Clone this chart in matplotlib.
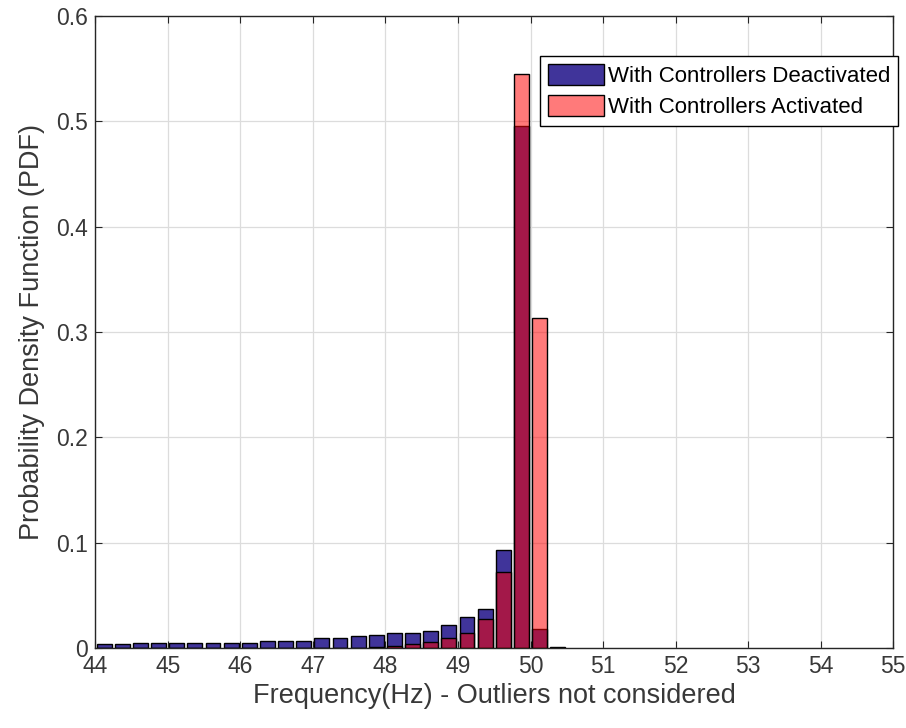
import numpy as np
import matplotlib
matplotlib.use('Agg')
import matplotlib.pyplot as plt

# DATA - histogram bins (Hz) and PDF values
bin_left = [44.0, 44.25, 44.5, 44.75, 45.0, 45.25, 45.5, 45.75, 46.0, 46.25,
            46.5, 46.75, 47.0, 47.25, 47.5, 47.75, 48.0, 48.25, 48.5, 48.75,
            49.0, 49.25, 49.5, 49.75, 50.0, 50.25]
bin_width = 0.25
pdf_deactivated = [0.004, 0.004, 0.005, 0.005, 0.005, 0.005, 0.005, 0.005, 0.005, 0.007,
                   0.007, 0.007, 0.009, 0.009, 0.011, 0.012, 0.014, 0.014, 0.016, 0.022,
                   0.029, 0.037, 0.093, 0.496, 0.018, 0.001]
pdf_activated = [0.0, 0.0, 0.0, 0.0, 0.0, 0.0, 0.0, 0.0, 0.0, 0.0,
                 0.0, 0.0, 0.0, 0.0, 0.0, 0.001, 0.002, 0.004, 0.006, 0.009,
                 0.014, 0.027, 0.072, 0.545, 0.313, 0.0]
labels = ["With Controllers Deactivated", "With Controllers Activated"]

plt.rcParams['font.family'] = ['Liberation Sans', 'DejaVu Sans']

fig = plt.figure(figsize=(9.06, 7.28), dpi=100)
ax = fig.add_axes([0.105, 0.110, 0.881, 0.868])

centers = np.array(bin_left) + bin_width / 2
ax.bar(centers, pdf_deactivated, width=bin_width * 0.82, color='#40349A',
       edgecolor='black', linewidth=1.0, label=labels[0], zorder=2)
ax.bar(centers, pdf_activated, width=bin_width * 0.82, color=(1.0, 0.0, 0.0, 0.52),
       edgecolor='black', linewidth=1.0, label=labels[1], zorder=3)

ax.set_xlim(44, 55)
ax.set_ylim(0, 0.6)
ax.set_xticks(range(44, 56))
ax.set_yticks([0, 0.1, 0.2, 0.3, 0.4, 0.5, 0.6])
ax.set_yticklabels(['0', '0.1', '0.2', '0.3', '0.4', '0.5', '0.6'])
ax.grid(True, color='#DCDCDC', linewidth=0.9, zorder=0)
ax.set_axisbelow(True)
ax.tick_params(direction='in', labelsize=16.5, labelcolor='#383838', color='#262626',
               top=True, right=True, length=5, pad=5)
for s in ax.spines.values():
    s.set_color('#262626')
    s.set_linewidth(1.0)

ax.set_xlabel("Frequency(Hz) - Outliers not considered", fontsize=19.5, color='#383838',
              labelpad=4)
ax.set_ylabel("Probability Density Function (PDF)", fontsize=19.5, color='#383838',
              labelpad=8)

leg = ax.legend(loc='upper right', bbox_to_anchor=(1.006, 0.937), fontsize=16,
                fancybox=False, framealpha=1, edgecolor='black',
                handlelength=2.5, handleheight=1.1, handletextpad=0.2,
                borderpad=0.35, labelspacing=0.35, borderaxespad=0)
leg.get_frame().set_linewidth(1.0)

fig.savefig('out.png', dpi=100)
